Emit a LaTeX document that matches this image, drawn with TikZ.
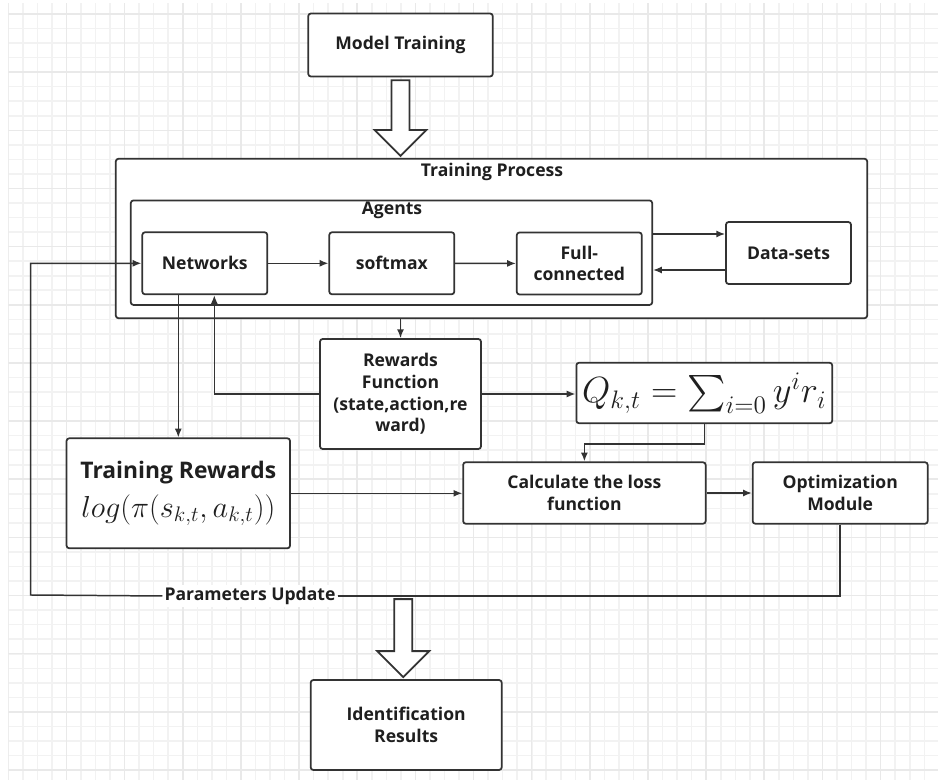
\documentclass[tikz,border=0pt]{standalone}
\usepackage{exscale}
\usepackage{fontspec}
\setmainfont{Open Sans}
\usepackage{tikz}
\usetikzlibrary{calc,arrows.meta}
\definecolor{linegray}{HTML}{333333}
\definecolor{gridminor}{HTML}{F2F2F2}
\definecolor{gridmajor}{HTML}{E9E9E9}
\newcommand{\boxfont}{\bfseries\fontsize{10}{12.3}\selectfont}
\newcommand{\bigarrow}[2]{%
    \draw[hollow] ($(#1)+(-9,0)$) -- ($(#2)+(-9,-26)$) -- ($(#2)+(-26,-26)$) -- (#2)
        -- ($(#2)+(26,-26)$) -- ($(#2)+(9,-26)$) -- ($(#1)+(9,0)$) -- cycle;}

\begin{document}
\begin{tikzpicture}[x=0.02cm,y=-0.02cm,
    block/.style={draw=linegray,fill=white,line width=1pt,rounded corners=1.5pt,
        align=center,font=\boxfont,text=black!88},
    small/.style={block,minimum width=2.5cm,minimum height=1.24cm},
    arr/.style={draw=linegray,line width=0.85pt,-{Latex[length=5pt,width=4pt]}},
    hollow/.style={draw=linegray,fill=white,line width=1pt,line join=miter}]
    \useasboundingbox (0,0) rectangle (938,780);
    \fill[white] (0,0) rectangle (938,780);

    \begin{scope}
        \clip (8.3,3.3) rectangle (938,780);
        \foreach \i in {0,...,63}
            \draw[gridminor,line width=0.9pt] (8.3+14.54*\i,0) -- (8.3+14.54*\i,780);
        \foreach \i in {0,...,52}
            \draw[gridminor,line width=0.9pt] (0,14+14.54*\i) -- (938,14+14.54*\i);
        \foreach \i in {0,...,15}
            \draw[gridmajor,line width=0.9pt] (8.3+58.15*\i,0) -- (8.3+58.15*\i,780);
        \foreach \i in {0,...,13}
            \draw[gridmajor,line width=0.9pt] (0,14+58.15*\i) -- (938,14+58.15*\i);
    \end{scope}

    \node[block,minimum width=3.69cm,minimum height=1.26cm] (model) at (400.5,45) {Model Training};
    \node[block,minimum width=15.03cm,minimum height=3.19cm] (train) at (491.5,238.5) {};
    \node[font=\boxfont,text=black!88] (traintitle) at (492,172) {Training Process};
    \node[block,minimum width=10.43cm,minimum height=2.09cm] (agents) at (391.5,252.7) {};
    \node[font=\boxfont,text=black!88] (agentstitle) at (392,210) {Agents};
    \node[small] (net) at (204.8,263.3) {Networks};
    \node[small] (soft) at (391.8,263.3) {softmax};
    \node[small] (full) at (579.3,263.5) {Full-\\connected};
    \node[small] (data) at (788.5,253) {Data-sets};
    \node[block,minimum width=3.22cm,minimum height=2.2cm] (rew) at (400.5,394)
        {Rewards\\Function\\(state,action,re\\ward)};
    \node[block,minimum width=4.99cm,minimum height=1.21cm,font=\fontsize{20}{24}\selectfont] (q) at (704.3,393)
        {$Q_{k,t}=\sum_{i=0}y^ir_i$};
    \node[block,minimum width=4.47cm,minimum height=2.2cm] (trr) at (178.3,493.3)
        {{\fontsize{13}{16}\selectfont Training Rewards}\\[5pt]
         {\fontsize{17}{20}\selectfont$log(\pi(s_{k,t},a_{k,t}))$}};
    \node[block,minimum width=4.85cm,minimum height=1.23cm] (calc) at (584.4,493)
        {Calculate the loss\\function};
    \node[block,minimum width=3.5cm,minimum height=1.23cm] (opt) at (840.2,493)
        {Optimization\\Module};
    \node[block,minimum width=3.82cm,minimum height=1.8cm] (ident) at (406.2,725)
        {Identification\\Results};
    \node[fill=white,inner sep=1pt,font=\boxfont,text=black!88] (upd) at (250,596) {Parameters Update};

    \coordinate (a1s) at ($(model.south)+(0,3)$);
    \coordinate (a1e) at ($(model.south |- train.north)+(0,-2)$);
    \coordinate (a2s) at ($(ident.north)+(-3,-80)$);
    \coordinate (a2e) at ($(ident.north)+(-3,-2)$);
    \bigarrow{a1s}{a1e}
    \bigarrow{a2s}{a2e}

    \coordinate (dsin) at ($(data.west)+(0,-19)$);
    \coordinate (dsout) at ($(data.west)+(0,17)$);
    \coordinate (fb) at (30.7,595);

    \draw[arr] (net) -- (soft);
    \draw[arr] (soft) -- (full);
    \draw[arr] (agents.east |- dsin) -- (dsin);
    \draw[arr] (dsout) -- (agents.east |- dsout);
    \draw[arr] (train.south -| rew.north) -- (rew.north);
    \draw[arr] (rew.west) -| ($(net.south)+(9.5,0)$);
    \draw[arr] (trr.north |- net.south) -- (trr.north);
    \draw[arr] (rew.east) -- (rew.east -| q.west);
    \draw[arr] (q.south) -- ++(0,20) -| (calc.north);
    \draw[arr] (trr.east) -- (trr.east -| calc.west);
    \draw[arr] (calc) -- (opt);
    \draw[linegray,line width=0.85pt] (opt.south) |- (upd.east);
    \draw[arr] (upd.west) -- (fb) |- (net.west);
\end{tikzpicture}
\end{document}
